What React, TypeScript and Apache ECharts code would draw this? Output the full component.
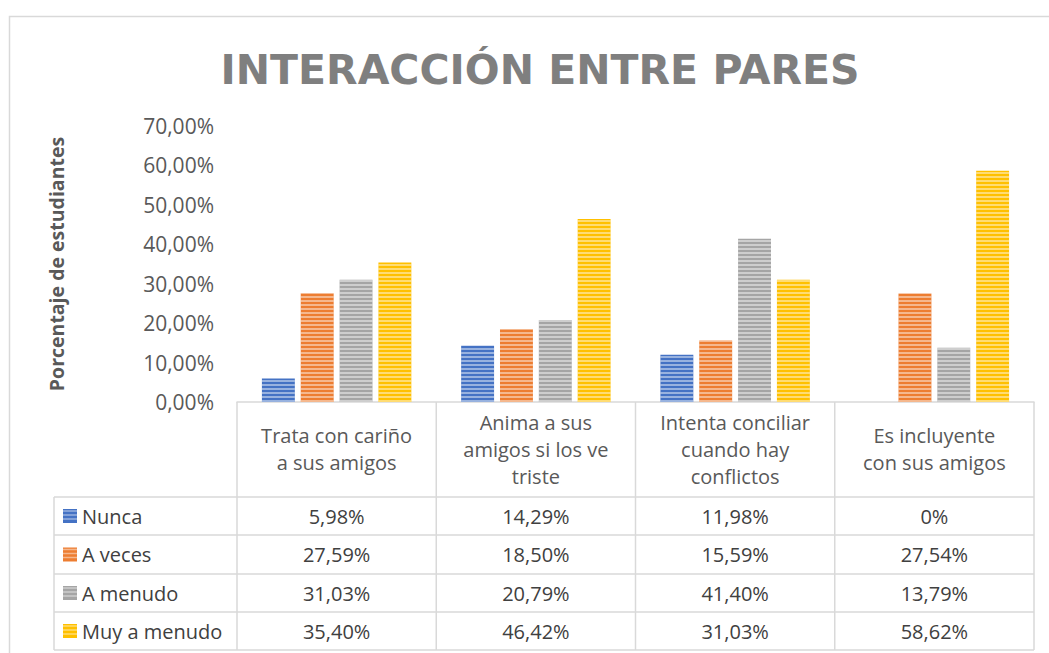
import React, { useEffect, useRef } from "react";
import * as echarts from "echarts";

const categories = [
  "Trata con cariño\na sus amigos",
  "Anima a sus\namigos si los ve\ntriste",
  "Intenta conciliar\ncuando hay\nconflictos",
  "Es incluyente\ncon sus amigos",
];
const seriesNames = ["Nunca", "A veces", "A menudo", "Muy a menudo"];
const nunca = [5.98, 14.29, 11.98, 0];
const aVeces = [27.59, 18.5, 15.59, 27.54];
const aMenudo = [31.03, 20.79, 41.4, 13.79];
const muyAMenudo = [35.4, 46.42, 31.03, 58.62];
const colors = ["#4472C4", "#ED7D31", "#A5A5A5", "#FFC000"];
const yTicks = { min: 0, max: 70, interval: 10 };

const allSeries = [nunca, aVeces, aMenudo, muyAMenudo];

const fmtPct = (v: number) =>
  v === 0 ? "0%" : v.toFixed(2).replace(".", ",") + "%";

export default function App() {
  const ref = useRef<HTMLDivElement>(null);
  useEffect(() => {
    document.body.style.margin = "0";
    const chart = echarts.init(ref.current!, null, { renderer: "svg" });
    const W = 1049;
    const plotL = 237;
    const plotR = 1034;
    const axisY = 402;
    const colW = (plotR - plotL) / categories.length;
    const tableL = 54;
    const rowYs = [497, 535, 574, 612, 650];
    const lineColor = "#d9d9d9";
    const font = "'Open Sans', 'Liberation Sans', sans-serif";
    const graphics: any[] = [];
    // outer border
    graphics.push({
      type: "rect",
      shape: { x: 9.5, y: 16.5, width: 1100, height: 700 },
      style: { fill: "none", stroke: lineColor, lineWidth: 1.5 },
      silent: true,
    });
    // horizontal table lines
    rowYs.forEach((y) => {
      graphics.push({
        type: "line",
        shape: { x1: tableL, y1: y, x2: plotR, y2: y },
        style: { stroke: lineColor, lineWidth: 1.5 },
      });
    });
    // vertical lines
    graphics.push({
      type: "line",
      shape: { x1: tableL, y1: rowYs[0], x2: tableL, y2: rowYs[4] },
      style: { stroke: lineColor, lineWidth: 1.5 },
    });
    for (let i = 0; i <= categories.length; i++) {
      const x = plotL + i * colW;
      graphics.push({
        type: "line",
        shape: { x1: x, y1: axisY, x2: x, y2: rowYs[4] },
        style: { stroke: lineColor, lineWidth: 1.5 },
      });
    }
    // row legend + values
    allSeries.forEach((vals, r) => {
      const cy = (rowYs[r] + rowYs[r + 1]) / 2;
      graphics.push({
        type: "rect",
        shape: { x: 63, y: cy - 7, width: 14, height: 14 },
        style: { fill: colors[r] },
      });
      for (let k = 0; k < 3; k++) {
        graphics.push({
          type: "line",
          shape: { x1: 63, y1: cy - 5 + k * 4, x2: 77, y2: cy - 5 + k * 4 },
          style: { stroke: "rgba(255,255,255,0.45)", lineWidth: 1.5 },
        });
      }
      graphics.push({
        type: "text",
        x: 82,
        y: cy,
        style: {
          text: seriesNames[r],
          font: `20px ${font}`,
          fill: "#404040",
          verticalAlign: "middle",
          align: "left",
        },
      });
      vals.forEach((v, c) => {
        graphics.push({
          type: "text",
          x: plotL + (c + 0.5) * colW,
          y: cy,
          style: {
            text: fmtPct(v),
            font: `20px ${font}`,
            fill: "#404040",
            verticalAlign: "middle",
            align: "center",
          },
        });
      });
    });

    chart.setOption({
      animation: false,
      title: {
        text: "INTERACCIÓN ENTRE PARES",
        left: 535,
        top: 44,
        textAlign: "center",
        textStyle: {
          fontFamily: "'DejaVu Sans', sans-serif",
          fontWeight: "bold",
          fontSize: 41,
          color: "#7f7f7f",
        },
      },
      grid: {
        left: plotL,
        right: W - plotR,
        top: 126,
        bottom: 653 - axisY,
        containLabel: false,
        outerBoundsMode: "none",
      },
      xAxis: {
        type: "category",
        data: categories,
        axisLine: { show: true, lineStyle: { color: lineColor, width: 1.5 } },
        axisTick: { show: false },
        axisLabel: {
          interval: 0,
          margin: 47,
          verticalAlign: "middle",
          fontSize: 20,
          lineHeight: 27,
          color: "#595959",
          fontFamily: font,
        },
      },
      yAxis: {
        type: "value",
        min: yTicks.min,
        max: yTicks.max,
        interval: yTicks.interval,
        name: "Porcentaje de estudiantes",
        nameLocation: "middle",
        nameRotate: 90,
        nameGap: 171,
        nameTextStyle: {
          fontSize: 19.5,
          fontWeight: "bold",
          color: "#595959",
          fontFamily: font,
        },
        axisLine: { show: false },
        axisTick: { show: false },
        splitLine: { show: false },
        axisLabel: {
          margin: 23,
          fontSize: 21,
          color: "#595959",
          fontFamily: font,
          formatter: (v: number) => v.toFixed(2).replace(".", ",") + "%",
        },
      },
      series: allSeries.map((vals, i) => ({
        name: seriesNames[i],
        type: "bar",
        data: vals,
        barGap: "18%",
        barCategoryGap: "25%",
        itemStyle: {
          color: colors[i],
          decal: {
            symbol: "rect",
            symbolSize: 1,
            dashArrayX: [1, 0],
            dashArrayY: [2, 2],
            color: "rgba(255,255,255,0.45)",
          },
        },
      })),
      graphic: graphics,
    });
    return () => chart.dispose();
  }, []);
  return <div ref={ref} style={{ width: 1049, height: 653 }} />;
}
